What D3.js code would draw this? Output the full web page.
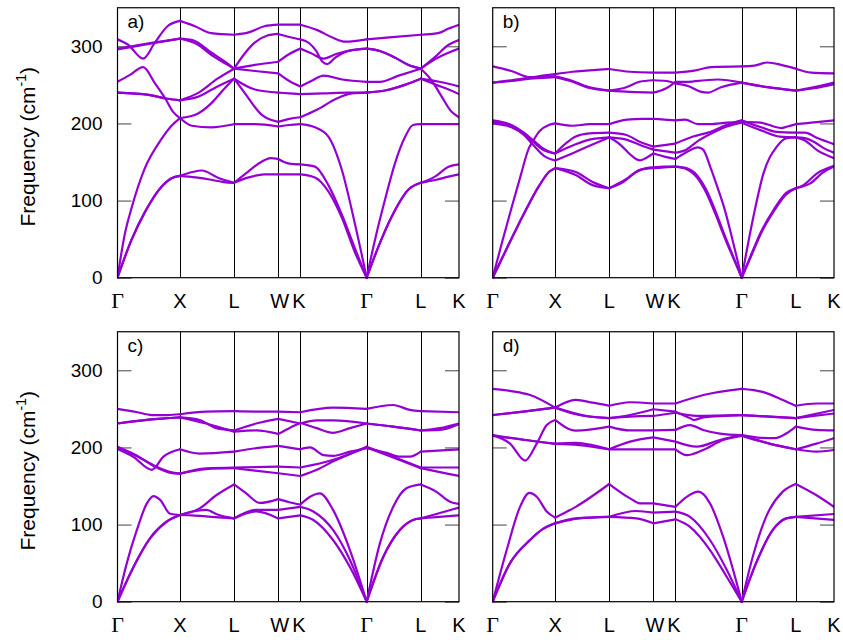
<!DOCTYPE html>
<html><head><meta charset="utf-8">
<script src="https://cdn.jsdelivr.net/npm/d3@7"></script>
<style>
html,body{margin:0;padding:0;background:#fff;}
svg text{font-family:"Liberation Sans",Arial,sans-serif;fill:#000;}
</style></head>
<body><svg id="chart" width="843" height="640"></svg>
<script>
// High-symmetry points along the FCC path (path length units) and their labels
const kNodes = [0, 1, 1.866, 2.573, 2.927, 3.988, 4.854, 5.466];
const kLabels = ["Γ", "X", "L", "W", "K", "Γ", "L", "K"];
const yTicks = [0, 100, 200, 300];
const panelLabels = ["a)", "b)", "c)", "d)"];
const yLabel = "Frequency (cm";

// Phonon branches [k, frequency cm^-1]
const bandsA = [
 [[0,0],[0.224,49],[0.438,85],[0.705,118],[0.865,129],[1,132],[1.25,130],[1.5,127],[1.7,124],[1.866,123],[2.1,130],[2.35,134],[2.573,134],[2.75,134],[2.927,134],[3.16,130],[3.375,112],[3.59,78],[3.8,33],[3.988,0],[4.175,40],[4.388,79],[4.655,114],[4.854,123],[5.1,127],[5.3,131],[5.466,134]],
 [[0,0],[0.224,49],[0.438,85],[0.705,118],[0.865,129],[1,132],[1.2,137],[1.35,139],[1.6,130],[1.866,123],[2.05,135],[2.3,150],[2.45,155],[2.573,154],[2.75,148],[2.927,147],[3.16,144],[3.375,120],[3.59,82],[3.8,38],[3.988,0],[4.175,40],[4.388,79],[4.655,114],[4.854,123],[5.08,131],[5.3,144],[5.466,147]],
 [[0,0],[0.118,57],[0.224,90],[0.438,142],[0.705,180],[0.865,197],[1,207],[1.29,213],[1.5,226],[1.72,246],[1.866,258],[2.04,239],[2.31,211],[2.573,202],[2.75,206],[2.927,208],[3.2,218],[3.5,232],[3.75,239],[3.988,240],[4.3,243],[4.6,250],[4.854,258],[5.1,250],[5.3,244],[5.466,238]],
 [[0,254],[0.2,263],[0.41,273],[0.6,252],[0.76,233],[0.89,215],[1,207],[1.19,197],[1.5,195],[1.866,199],[2.2,199],[2.573,196],[2.75,198],[2.927,199],[3.16,195],[3.375,183],[3.59,140],[3.8,70],[3.988,0],[4.121,49],[4.281,101],[4.44,148],[4.6,182],[4.73,198],[4.854,199],[5.2,199],[5.466,199]],
 [[0,240],[0.5,237],[0.8,232],[1,230],[1.3,235],[1.6,248],[1.866,258],[2.2,244],[2.573,240],[2.75,239],[2.927,238],[3.3,239],[3.7,240],[3.988,240],[4.3,243],[4.6,250],[4.854,258],[5.15,254],[5.466,248]],
 [[0,240],[0.5,237],[0.8,232],[1,230],[1.3,240],[1.6,258],[1.866,271],[2.2,268],[2.573,265],[2.75,255],[2.927,248],[3.1,255],[3.3,262],[3.6,257],[3.988,254],[4.2,254],[4.5,262],[4.854,271],[5.026,256],[5.187,235],[5.348,215],[5.466,208]],
 [[0,296],[0.5,303],[1,310],[1.2,308],[1.5,292],[1.72,280],[1.866,271],[2.2,276],[2.573,280],[2.75,290],[2.927,297],[3.1,291],[3.3,284],[3.5,290],[3.75,295],[3.988,297],[4.2,294],[4.45,285],[4.65,276],[4.854,271],[5.1,284],[5.466,297]],
 [[0,297],[0.5,304],[1,310],[1.29,302],[1.5,289],[1.72,278],[1.866,271],[2.03,290],[2.2,305],[2.4,314],[2.573,316],[2.75,312],[2.927,309],[3.07,304],[3.18,294],[3.28,280],[3.36,277],[3.48,285],[3.7,294],[3.988,297],[4.2,294],[4.45,285],[4.65,276],[4.854,271],[5.08,286],[5.3,302],[5.466,308]],
 [[0,309],[0.17,302],[0.41,284],[0.6,305],[0.8,326],[1,333],[1.24,326],[1.5,317],[1.866,315],[2.1,318],[2.35,326],[2.573,328],[2.927,328],[3.2,321],[3.45,311],[3.65,306],[3.988,309],[4.4,312],[4.854,315],[5.13,317],[5.3,323],[5.466,328]]
];

const bandsB = [
 [[0,0],[0.25,42],[0.5,83],[0.75,120],[0.9,137],[1,142],[1.33,133],[1.6,120],[1.866,116],[2.14,128],[2.36,140],[2.573,142],[2.75,143],[2.927,144],[3.1,141],[3.27,130],[3.42,110],[3.56,84],[3.7,55],[3.85,26],[3.988,0],[4.15,30],[4.3,58],[4.5,86],[4.7,108],[4.854,116],[5.08,122],[5.3,137],[5.466,144]],
 [[0,0],[0.25,42],[0.5,83],[0.75,120],[0.9,137],[1,142],[1.33,137],[1.6,124],[1.866,116],[2.09,124],[2.3,137],[2.46,142],[2.573,143],[2.75,144],[2.927,144],[3.1,142],[3.27,133],[3.42,114],[3.56,88],[3.7,58],[3.85,28],[3.988,0],[4.15,32],[4.3,60],[4.5,88],[4.7,110],[4.854,116],[4.976,120],[5.19,135],[5.466,145]],
 [[0,0],[0.15,46],[0.3,90],[0.45,133],[0.58,168],[0.63,175],[0.75,190],[0.9,198],[1,200],[1.28,197],[1.55,199],[1.866,199],[2.15,205],[2.4,206],[2.573,206],[2.75,205],[2.927,204],[3.08,205],[3.29,199],[3.48,199],[3.75,201],[3.988,202],[4.29,201],[4.62,194],[4.72,196],[4.854,199],[5.1,201],[5.466,204]],
 [[0,204],[0.3,198],[0.5,188],[0.65,178],[0.8,168],[1,161],[1.2,176],[1.33,183],[1.55,187],[1.866,188],[2.14,185],[2.36,176],[2.573,170],[2.75,172],[2.927,174],[3.21,183],[3.48,189],[3.74,198],[3.988,204],[4.3,195],[4.55,189],[4.854,188],[5.0,188],[5.2,181],[5.466,173]],
 [[0,202],[0.3,196],[0.5,186],[0.65,176],[0.8,166],[1,161],[1.3,172],[1.55,179],[1.866,182],[2.14,179],[2.36,172],[2.573,166],[2.75,164],[2.927,162],[3.1,166],[3.3,178],[3.55,189],[3.75,196],[3.988,201],[4.3,191],[4.6,183],[4.854,182],[5.0,181],[5.15,176],[5.3,168],[5.466,162]],
 [[0,200],[0.3,195],[0.5,185],[0.65,172],[0.82,158],[1,152],[1.3,162],[1.55,171],[1.866,182],[2.05,172],[2.2,160],[2.36,152],[2.45,155],[2.573,161],[2.75,157],[2.927,154],[3.107,163],[3.29,169],[3.37,166],[3.5,140],[3.6,117],[3.717,88],[3.85,46],[3.988,0],[4.175,79],[4.335,135],[4.55,170],[4.71,181],[4.854,182],[5.0,178],[5.2,165],[5.466,155]],
 [[0,274],[0.3,268],[0.6,260],[0.8,262],[1,264],[1.28,267],[1.5,268.5],[1.866,270.6],[2.2,267],[2.573,266],[2.927,266],[3.23,268.5],[3.5,273],[3.988,274],[4.19,275],[4.4,279],[4.62,276],[4.854,271],[5.1,266],[5.466,265]],
 [[0,253],[0.3,255],[0.6,258],[0.8,259],[1,260],[1.28,254],[1.5,247],[1.866,242.5],[2.14,247],[2.35,254],[2.573,256],[2.78,255],[2.927,252],[3.128,248.6],[3.34,241],[3.445,240],[3.657,247],[3.988,253],[4.4,247],[4.854,242.5],[5.15,245.6],[5.466,251]],
 [[0,253],[0.3,256],[0.6,259],[1,261],[1.28,255],[1.5,248],[1.866,242.5],[2.2,241],[2.573,240],[2.78,245.6],[2.927,254],[3.128,254],[3.4,256],[3.6,257],[3.988,253],[4.4,247],[4.854,242.5],[5.15,247],[5.466,253]]
];

const bandsC = [
 [[0,0],[0.256,45],[0.52,82],[0.79,104],[1,112.4],[1.2,112],[1.5,110],[1.866,108],[2.22,117],[2.573,108],[2.75,110],[2.927,112],[3.135,106],[3.45,80],[3.72,45],[3.988,0],[4.253,58],[4.519,93],[4.73,106],[4.854,108],[5.15,110],[5.466,112]],
 [[0,0],[0.256,45],[0.52,82],[0.79,104],[1,112.4],[1.2,117],[1.42,119],[1.6,113],[1.866,108],[2.22,119],[2.573,119],[2.75,121],[2.927,123],[3.135,117],[3.45,93],[3.72,54],[3.988,0],[4.253,58],[4.519,93],[4.73,106],[4.854,108],[5.16,115],[5.466,122]],
 [[0,0],[0.149,50],[0.31,93],[0.47,127.5],[0.576,137],[0.683,132],[0.843,114],[1,112.4],[1.315,121],[1.58,138],[1.866,152],[2.06,140.5],[2.28,128],[2.573,133],[2.75,129],[2.927,126],[3.082,136],[3.24,140.5],[3.45,119],[3.72,67],[3.988,0],[4.2,75.6],[4.413,123],[4.625,147],[4.854,152],[5.1,142.7],[5.32,129.7],[5.466,126.7]],
 [[0,201],[0.3,190],[0.6,175],[0.85,167],[1,166],[1.42,173],[1.866,174],[2.573,175],[2.927,174],[3.455,184],[3.988,201],[4.413,188],[4.854,174],[5.466,174]],
 [[0,199],[0.3,189],[0.6,176],[0.85,168],[1,166],[1.42,172],[1.866,173],[2.2,170],[2.573,166.5],[2.927,163],[3.19,171],[3.455,182],[3.988,200],[4.413,187],[4.854,173],[5.16,168],[5.466,163]],
 [[0,198],[0.25,188],[0.55,171],[0.736,188],[1,197.6],[1.315,192],[1.866,194.5],[2.22,199],[2.573,202],[2.927,197.6],[3.08,200],[3.3,190],[3.45,189],[3.72,194.5],[3.988,199],[4.31,193],[4.52,188],[4.68,188],[4.854,194.5],[5.466,197.6]],
 [[0,231],[0.5,236],[1,239],[1.315,235.6],[1.58,225],[1.866,222],[2.22,231],[2.573,237],[2.927,231],[3.19,235],[3.45,235],[3.988,231],[4.413,227],[4.854,222],[5.16,222.7],[5.466,230.4]],
 [[0,231],[0.5,236],[1,239],[1.42,231],[1.866,220.5],[2.22,222],[2.573,217.5],[2.75,225],[2.927,232],[3.19,225],[3.45,219],[3.72,225],[3.988,231],[4.413,227],[4.854,222],[5.16,225],[5.466,231]],
 [[0,250],[0.3,246],[0.55,242],[0.8,242],[1,243],[1.42,246.5],[1.866,247],[2.22,246.5],[2.573,246.5],[2.927,245.6],[3.45,251.6],[3.988,250],[4.413,255],[4.68,248.6],[4.854,247],[5.466,245.6]]
];

const bandsD = [
 [[0,0],[0.278,50],[0.598,80],[0.8,94],[1,101.6],[1.385,108],[1.866,110],[2.3,108],[2.573,101.6],[2.927,106.8],[3.16,97],[3.48,67],[3.75,32],[3.988,0],[4.218,50],[4.486,93],[4.7,108],[4.854,110],[5.466,106]],
 [[0,0],[0.278,50],[0.598,80],[0.8,94],[1,101.6],[1.33,108],[1.866,110],[2.3,117.6],[2.573,115.4],[2.927,116.7],[3.16,110],[3.48,80],[3.75,41],[3.988,0],[4.218,50],[4.486,93],[4.7,108],[4.854,110],[5.466,113.7]],
 [[0,0],[0.224,67],[0.438,123],[0.587,141],[0.705,136],[0.865,117],[1,109],[1.33,123],[1.866,152.6],[2.2,134],[2.36,127.5],[2.573,127.5],[2.927,123],[3.108,136],[3.295,142.7],[3.48,127.5],[3.69,84.3],[3.988,0],[4.164,58],[4.378,110],[4.646,142.7],[4.854,152.6],[5.186,138],[5.466,123]],
 [[0,215],[0.5,210],[1,204.5],[1.385,203],[1.866,197.6],[2.573,197.6],[2.927,197.6],[3.108,190],[3.37,196.7],[3.69,209.7],[3.988,215],[4.432,205],[4.854,197.6],[5.186,194.5],[5.466,196.7]],
 [[0,216],[0.49,210],[1,205],[1.33,206],[1.866,197.6],[2.2,207.5],[2.573,213],[2.927,207.5],[3.27,201],[3.64,209.7],[3.988,216],[4.3,212.5],[4.52,212],[4.7,218],[4.854,227],[5.186,222.7],[5.466,222]],
 [[0,216],[0.278,205],[0.52,183],[0.705,205],[0.865,229],[1,235.6],[1.33,221.8],[1.866,227],[2.2,222],[2.573,222],[2.927,222.7],[3.16,229],[3.37,222.7],[3.64,218],[3.988,216],[4.432,205],[4.854,197.6],[5.186,205],[5.466,212]],
 [[0,242],[0.49,246.5],[1,251.6],[1.385,242],[1.866,238],[2.2,242],[2.573,249.5],[2.927,246.4],[3.16,238],[3.22,235.6],[3.37,239],[3.988,242],[4.432,240],[4.854,238],[5.466,248.6]],
 [[0,242],[0.49,246.5],[1,251.6],[1.49,241],[1.866,238],[2.2,240],[2.573,240.8],[2.927,245],[3.27,241],[3.988,242],[4.432,240],[4.854,238],[5.466,244]],
 [[0,276],[0.3,273],[0.598,268],[1,251.6],[1.33,261.6],[1.6,258],[1.866,254],[2.2,258.6],[2.573,257],[2.927,257],[3.375,268],[3.988,276],[4.325,272],[4.646,261.6],[4.854,254],[5.186,257],[5.466,257]]
];

const allBands = [bandsA, bandsB, bandsC, bandsD];

const svg = d3.select("#chart");
const lineColor = "#9400d3";
const frames = [
  {x0:117.5, x1:459, yb:277.7},
  {x0:492.7, x1:834, yb:277.7},
  {x0:117.5, x1:459, yb:601.7},
  {x0:492.7, x1:834, yb:601.7}
];
const yMax = 350, pxPerUnit = 0.7713;
const labelShift = [0, 0, 0, 1.5, -1.5, 0, 0, 0];

frames.forEach((f, pi) => {
  const x = d3.scaleLinear().domain([kNodes[0], kNodes[kNodes.length-1]]).range([f.x0, f.x1]);
  const yt = f.yb - yMax*pxPerUnit;
  const y = d3.scaleLinear().domain([0, yMax]).range([f.yb, yt]);
  const g = svg.append("g");

  const clipId = "clip" + pi;
  svg.append("clipPath").attr("id", clipId).append("rect")
    .attr("x", f.x0).attr("y", yt - 2).attr("width", f.x1 - f.x0).attr("height", f.yb - yt + 4);

  // vertical lines at high-symmetry points
  g.selectAll("line.v").data(kNodes.slice(1, -1)).enter().append("line")
    .attr("x1", d => Math.round(x(d)) + 0.5).attr("x2", d => Math.round(x(d)) + 0.5)
    .attr("y1", yt).attr("y2", f.yb).attr("stroke", "#000").attr("stroke-width", 1);

  // y ticks (inward both sides)
  const left = d3.axisLeft(y).tickValues(yTicks).tickSizeInner(-14).tickSizeOuter(0).tickPadding(15);
  if (pi % 2 === 1) left.tickFormat("");
  const ga = g.append("g").attr("transform", `translate(${f.x0},0)`).call(left);
  ga.select(".domain").remove();
  ga.selectAll(".tick line").attr("stroke", "#444");
  ga.selectAll("text").attr("font-size", 19).attr("font-family", "Liberation Sans, Arial, sans-serif");
  const right = d3.axisRight(y).tickValues(yTicks).tickSizeInner(-14).tickSizeOuter(0).tickFormat("");
  const gr = g.append("g").attr("transform", `translate(${f.x1},0)`).call(right);
  gr.select(".domain").remove();
  gr.selectAll(".tick line").attr("stroke", "#444");

  // branches, drawn segment by segment between high-symmetry points
  const line = d3.line().x(d => x(d[0])).y(d => y(d[1])).curve(d3.curveMonotoneX);
  const gl = g.append("g").attr("clip-path", `url(#${clipId})`);
  allBands[pi].forEach(band => {
    for (let i = 0; i < kNodes.length - 1; i++) {
      const pts = band.filter(p => p[0] >= kNodes[i] - 1e-6 && p[0] <= kNodes[i+1] + 1e-6);
      if (pts.length >= 2) {
        gl.append("path").attr("d", line(pts)).attr("fill", "none")
          .attr("stroke", lineColor).attr("stroke-width", 2.2)
          .attr("stroke-linejoin", "round").attr("stroke-linecap", "round");
      }
    }
  });

  // frame
  g.append("rect").attr("x", f.x0).attr("y", yt).attr("width", f.x1 - f.x0).attr("height", f.yb - yt)
    .attr("fill", "none").attr("stroke", "#000").attr("stroke-width", 1.2);

  // x labels
  g.selectAll("text.kl").data(kNodes).enter().append("text")
    .attr("x", (d, i) => x(d) + labelShift[i])
    .attr("y", f.yb + 30)
    .attr("text-anchor", "middle")
    .attr("font-size", (d, i) => kLabels[i] === "Γ" ? 22 : 20)
    .style("font-family", (d, i) => kLabels[i] === "Γ" ? "'Liberation Serif','DejaVu Serif',serif" : "'Liberation Sans',Arial,sans-serif")
    .text((d, i) => kLabels[i]);

  // panel label
  g.append("text").attr("x", f.x0 + 10).attr("y", yt + 20).attr("font-size", 19).text(panelLabels[pi]);

  // y axis title on left panels
  if (pi % 2 === 0) {
    const cy = (f.yb + yt) / 2 + 4;
    const t = g.append("text").attr("transform", `translate(35,${cy}) rotate(-90)`)
      .attr("text-anchor", "middle").attr("font-size", 21);
    t.append("tspan").text(yLabel);
    t.append("tspan").attr("font-size", 14).attr("dy", -9).text("-1");
    t.append("tspan").attr("dy", 9).text(")");
  }
});
</script>
</body></html>
